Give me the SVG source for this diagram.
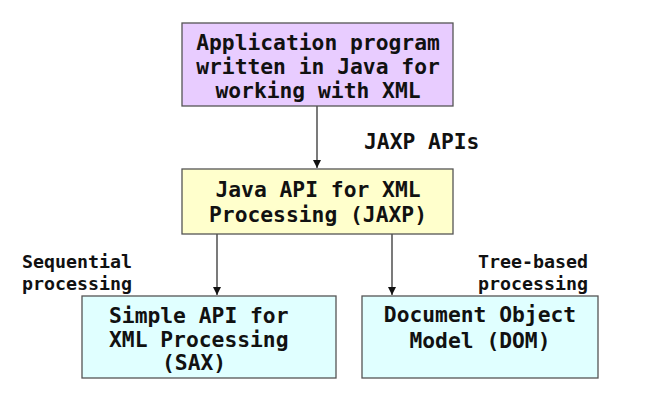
<svg xmlns="http://www.w3.org/2000/svg" width="666" height="413" viewBox="0 0 666 413">
<style>
.box{stroke:#555;stroke-width:1.3}
.t{font-family:"DejaVu Sans Mono",monospace;font-weight:bold;font-size:21.3px;fill:#111}
.c{text-anchor:middle}
.s{font-family:"DejaVu Sans Mono",monospace;font-weight:bold;font-size:18.3px;fill:#111}
.ln{stroke:#222;stroke-width:1.2;fill:none}
</style>
<defs>
<marker id="ah" viewBox="0 0 10 10" refX="10" refY="5" markerWidth="8" markerHeight="8" markerUnits="userSpaceOnUse" orient="auto">
<path d="M0,0 L10,5 L0,10 z" fill="#111"/>
</marker>
</defs>
<rect width="666" height="413" fill="#fff"/>
<g id="connectors">
<line class="ln" x1="317" y1="106" x2="317" y2="168" marker-end="url(#ah)"/>
<line class="ln" x1="217" y1="234" x2="217" y2="295" marker-end="url(#ah)"/>
<line class="ln" x1="392" y1="234" x2="392" y2="295" marker-end="url(#ah)"/>
<text class="t" x="364" y="149">JAXP APIs</text>
<text class="s" x="22" y="268">Sequential</text>
<text class="s" x="22" y="290">processing</text>
<text class="s" x="478" y="268">Tree-based</text>
<text class="s" x="478" y="290">processing</text>
</g>
<g id="app">
<rect class="box" x="182" y="23" width="271" height="83" fill="#e8ccff"/>
<text class="t c" x="318" y="50">Application program</text>
<text class="t c" x="318" y="74">written in Java for</text>
<text class="t c" x="318" y="98">working with XML</text>
</g>
<g id="jaxp">
<rect class="box" x="182" y="169" width="271" height="65" fill="#ffffcc"/>
<text class="t c" x="318" y="197">Java API for XML</text>
<text class="t c" x="318" y="222">Processing (JAXP)</text>
</g>
<g id="sax">
<rect class="box" x="82" y="296" width="254" height="82" fill="#e0ffff"/>
<text class="t" x="109" y="323">Simple API for</text>
<text class="t" x="109" y="347">XML Processing</text>
<text class="t" x="162" y="370">(SAX)</text>
</g>
<g id="dom">
<rect class="box" x="362" y="296" width="236" height="82" fill="#e0ffff"/>
<text class="t c" x="480" y="322">Document Object</text>
<text class="t c" x="480" y="348">Model (DOM)</text>
</g>
</svg>
